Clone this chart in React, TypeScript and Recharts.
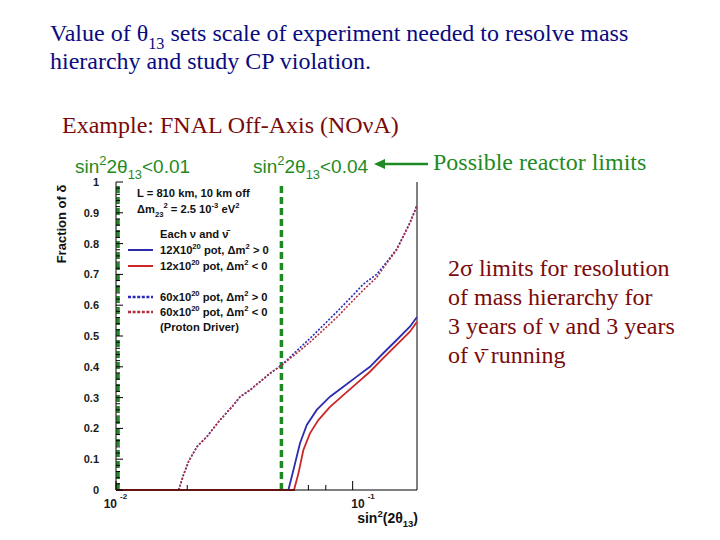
import React from 'react';
import { LineChart, Line, XAxis, YAxis, ReferenceLine, Legend } from 'recharts';

type Pt = { x: number; y: number };

// sin^2(2 theta13) vs fraction of delta
const blueSolid: Pt[] = [
  { x: 0.0535, y: 0 }, { x: 0.0562, y: 0.065 }, { x: 0.0599, y: 0.152 }, { x: 0.064, y: 0.211 },
  { x: 0.0705, y: 0.26 }, { x: 0.0802, y: 0.303 }, { x: 0.0913, y: 0.335 }, { x: 0.104, y: 0.368 },
  { x: 0.1183, y: 0.4 }, { x: 0.1346, y: 0.444 }, { x: 0.1534, y: 0.487 }, { x: 0.1745, y: 0.53 },
  { x: 0.187, y: 0.562 },
];
const redSolid: Pt[] = [
  { x: 0.01, y: 0 }, { x: 0.0565, y: 0 }, { x: 0.059, y: 0.054 }, { x: 0.0619, y: 0.13 },
  { x: 0.066, y: 0.184 }, { x: 0.0716, y: 0.227 }, { x: 0.0802, y: 0.27 }, { x: 0.0913, y: 0.308 },
  { x: 0.104, y: 0.346 }, { x: 0.1183, y: 0.384 }, { x: 0.1346, y: 0.428 }, { x: 0.1534, y: 0.471 },
  { x: 0.1745, y: 0.514 }, { x: 0.187, y: 0.546 },
];
const blueDotted: Pt[] = [
  { x: 0.0184, y: 0 }, { x: 0.0193, y: 0.05 }, { x: 0.0203, y: 0.094 }, { x: 0.022, y: 0.141 },
  { x: 0.0242, y: 0.173 }, { x: 0.0275, y: 0.227 }, { x: 0.0309, y: 0.27 }, { x: 0.0335, y: 0.303 },
  { x: 0.0369, y: 0.325 }, { x: 0.0448, y: 0.379 }, { x: 0.0502, y: 0.406 }, { x: 0.058, y: 0.452 },
  { x: 0.066, y: 0.492 }, { x: 0.0752, y: 0.535 }, { x: 0.0856, y: 0.578 }, { x: 0.0974, y: 0.622 },
  { x: 0.1108, y: 0.668 }, { x: 0.1262, y: 0.7 }, { x: 0.1392, y: 0.74 }, { x: 0.1534, y: 0.782 },
  { x: 0.1635, y: 0.824 }, { x: 0.1745, y: 0.868 }, { x: 0.187, y: 0.925 },
];
const redDotted: Pt[] = [
  { x: 0.0184, y: 0 }, { x: 0.0193, y: 0.05 }, { x: 0.0203, y: 0.094 }, { x: 0.022, y: 0.141 },
  { x: 0.0242, y: 0.173 }, { x: 0.0275, y: 0.227 }, { x: 0.0309, y: 0.27 }, { x: 0.0335, y: 0.303 },
  { x: 0.0369, y: 0.325 }, { x: 0.0448, y: 0.379 }, { x: 0.0502, y: 0.406 }, { x: 0.058, y: 0.444 },
  { x: 0.066, y: 0.48 }, { x: 0.0752, y: 0.52 }, { x: 0.0856, y: 0.56 }, { x: 0.0974, y: 0.605 },
  { x: 0.1108, y: 0.649 }, { x: 0.1262, y: 0.69 }, { x: 0.1392, y: 0.736 }, { x: 0.1534, y: 0.779 },
  { x: 0.1635, y: 0.822 }, { x: 0.1745, y: 0.866 }, { x: 0.187, y: 0.922 },
];

const reactorLimitLines = [0.0102, 0.05];

const X_DOMAIN: [number, number] = [0.01, 0.187];
const majorXTicks = [0.01, 0.1];
const xTickExponents = ['-2', '-1'];
const minorXTicks = [0.02, 0.065, 0.077];
const majorYTicks = [0, 0.1, 0.2, 0.3, 0.4, 0.5, 0.6, 0.7, 0.8, 0.9, 1];
const yTickLabels = ['0', '0.1', '0.2', '0.3', '0.4', '0.5', '0.6', '0.7', '0.8', '0.9', '1'];
const minorYTicks = Array.from({ length: 51 }, (_, i) => Math.round(i * 2) / 100).filter(
  (v) => !majorYTicks.some((m) => Math.abs(m - v) < 1e-9)
);

const SANS = 'Liberation Sans, Arial, sans-serif';
const SERIF = 'Liberation Serif, Times New Roman, serif';
const GREEN = '#1f8a24';
const MAROON = '#7a0a0a';
const NAVY = '#0a0a80';

const NU = '\u03bd';
const NUBAR = '\u03bd\u0304';

type Part = [string, ('sup' | 'sub' | '')?];
function rich(parts: Part[], base: number) {
  let shift = 0;
  return parts.map(([t, k], i) => {
    const target = k === 'sup' ? -base * 0.42 : k === 'sub' ? base * 0.32 : 0;
    const dy = target - shift;
    shift = target;
    return (
      <tspan key={i} dy={dy} fontSize={k ? base * 0.68 : base}>
        {t}
      </tspan>
    );
  });
}

const series = [
  { key: 'b1', name: '12X10^20 pot, dm2 > 0', data: blueSolid, color: '#2c2cae', dash: undefined as string | undefined, width: 1.8,
    label: [['12X10'], ['20', 'sup'], [' pot, \u0394m'], ['2', 'sup'], [' >  0']] as Part[] },
  { key: 'r1', name: '12x10^20 pot, dm2 < 0', data: redSolid, color: '#cc2626', dash: undefined, width: 1.8,
    label: [['12x10'], ['20', 'sup'], [' pot, \u0394m'], ['2', 'sup'], [' <  0']] as Part[] },
  { key: 'b2', name: '60x10^20 pot, dm2 > 0', data: blueDotted, color: '#2a2ab8', dash: '2 1.6', width: 1.6,
    label: [['60x10'], ['20', 'sup'], [' pot, \u0394m'], ['2', 'sup'], [' >  0']] as Part[] },
  { key: 'r2', name: '60x10^20 pot, dm2 < 0', data: redDotted, color: '#b03040', dash: '2 1.6', width: 1.6,
    label: [['60x10'], ['20', 'sup'], [' pot, \u0394m'], ['2', 'sup'], [' <  0']] as Part[] },
];

const Y_MARGIN = 17;
const X_MARGIN = 10;

const YTick = (props: any) => {
  const { x, y, payload } = props;
  const v = payload.value as number;
  const idx = majorYTicks.findIndex((m) => Math.abs(m - v) < 1e-9);
  const ax = x + Y_MARGIN;
  const major = idx >= 0;
  return (
    <g>
      <line x1={ax} x2={ax + (major ? 7 : 4)} y1={y} y2={y} stroke="#000" strokeWidth={1} />
      {major && (
        <text x={x} y={y + 4} textAnchor="end" fontFamily={SANS} fontWeight="bold" fontSize={11} fill="#1a1a1a">
          {yTickLabels[idx]}
        </text>
      )}
    </g>
  );
};

const XTick = (props: any) => {
  const { x, y, payload } = props;
  const v = payload.value as number;
  const idx = majorXTicks.findIndex((m) => Math.abs(m - v) < 1e-12);
  const ay = y - X_MARGIN;
  const major = idx >= 0;
  const anchorX = idx === 0 ? x + 1 : x + 12;
  return (
    <g>
      <line x1={x} x2={x} y1={ay} y2={ay - (major ? 9 : 5)} stroke="#000" strokeWidth={1} />
      {major && (
        <g fontFamily={SANS} fontWeight="bold" fill="#1a1a1a">
          <text x={anchorX} y={ay + 18} textAnchor="end" fontSize={12}>10</text>
          <text x={anchorX + 3} y={ay + 9} textAnchor="start" fontSize={8}>{xTickExponents[idx]}</text>
        </g>
      )}
    </g>
  );
};

const LegendBox = () => {
  const rows = [250, 266, 297, 312];
  const fs = 11.2;
  return (
    <svg width={175} height={160} style={{ display: 'block', overflow: 'visible' }}>
      <g transform="translate(-120,-183)" fontFamily={SANS} fontWeight="bold" fill="#111" fontSize={fs}>
        <text x={137} y={197}>L = 810 km, 10 km off</text>
        <text x={137} y={213}>{rich([['\u0394m'], ['23', 'sub'], ['2', 'sup'], [' = 2.5 10'], ['-3', 'sup'], [' eV'], ['2', 'sup']], fs)}</text>
        <text x={160} y={238}>{`Each ${NU} and ${NUBAR}`}</text>
        {series.map((s, i) => (
          <g key={s.key}>
            <line x1={128} x2={153} y1={rows[i]} y2={rows[i]} stroke={s.color} strokeWidth={s.dash ? 2.4 : 2} strokeDasharray={s.dash ? '3 1.6' : undefined} />
            <text x={160} y={rows[i] + 4}>{rich(s.label, fs)}</text>
          </g>
        ))}
        <text x={160} y={331}>(Proton Driver)</text>
      </g>
    </svg>
  );
};

export default function App() {
  const allXTicks = [...majorXTicks, ...minorXTicks].sort((a, b) => a - b);
  const allYTicks = [...majorYTicks, ...minorYTicks].sort((a, b) => a - b);
  return (
    <div style={{ position: 'absolute', left: 0, top: 0, width: 720, height: 540, background: '#fff' }}>
      <LineChart width={720} height={540} margin={{ top: 182, right: 303, bottom: 20, left: 56 }}>
        <XAxis
          dataKey="x"
          type="number"
          scale="log"
          domain={X_DOMAIN}
          allowDataOverflow
          ticks={allXTicks}
          interval={0}
          tickSize={0}
          tickMargin={X_MARGIN}
          tickLine={false}
          tick={<XTick />}
          axisLine={{ stroke: '#000', strokeWidth: 1 }}
          height={30}
        />
        <YAxis
          type="number"
          domain={[0, 1]}
          ticks={allYTicks}
          interval={0}
          tickSize={0}
          tickMargin={Y_MARGIN}
          tickLine={false}
          tick={<YTick />}
          axisLine={{ stroke: '#000', strokeWidth: 1 }}
          width={60}
        />
        <ReferenceLine x={X_DOMAIN[1]} stroke="#000" strokeWidth={1} />
        {reactorLimitLines.map((v) => (
          <ReferenceLine key={v} x={v} stroke={GREEN} strokeWidth={3.5} strokeDasharray="7 4" />
        ))}
        {series.map((s) => (
          <Line
            key={s.key}
            name={s.name}
            data={s.data}
            dataKey="y"
            type="linear"
            stroke={s.color}
            strokeWidth={s.width}
            strokeDasharray={s.dash}
            dot={false}
            isAnimationActive={false}
          />
        ))}
        <Legend
          layout="horizontal"
          align="center"
          verticalAlign="middle"
          content={() => <LegendBox />}
          wrapperStyle={{ position: 'absolute', left: 120, top: 183, width: 175, height: 160 }}
        />
      </LineChart>
      <svg width={720} height={540} style={{ position: 'absolute', left: 0, top: 0, pointerEvents: 'none' }}>
        <g fontFamily={SERIF} fill={NAVY}>
          <text x={50} y={41} fontSize={24}>{rich([['Value of \u03b8'], ['13', 'sub'], [' sets scale of experiment needed to resolve mass']], 24)}</text>
          <text x={50} y={69} fontSize={24}>hierarchy and study CP violation.</text>
        </g>
        <text x={62} y={133} fontFamily={SERIF} fontSize={24} fill={MAROON}>{`Example: FNAL Off-Axis (NO${NU}A)`}</text>
        <g fontFamily={SANS} fill={GREEN} fontSize={19}>
          <text x={75} y={173}>{rich([['sin'], ['2', 'sup'], ['2\u03b8'], ['13', 'sub'], ['<0.01']], 19)}</text>
          <text x={253} y={173}>{rich([['sin'], ['2', 'sup'], ['2\u03b8'], ['13', 'sub'], ['<0.04']], 19)}</text>
        </g>
        <line x1={382} x2={428} y1={164} y2={164} stroke={GREEN} strokeWidth={2.5} />
        <polygon points="374,164 385,159 385,169" fill={GREEN} />
        <text x={433} y={170} fontFamily={SERIF} fontSize={24} fill={GREEN}>Possible reactor limits</text>
        <g fontFamily={SERIF} fontSize={24} fill={MAROON}>
          <text x={448} y={276}>{'2\u03c3 limits for resolution'}</text>
          <text x={448} y={305}>of mass hierarchy for</text>
          <text x={448} y={334}>{`3 years of ${NU} and 3 years`}</text>
          <text x={448} y={363}>{`of ${NUBAR} running`}</text>
        </g>
        <text transform="translate(66,224) rotate(-90)" textAnchor="middle" fontFamily={SANS} fontWeight="bold" fontSize={13} fill="#111">{'Fraction of \u03b4'}</text>
        <text x={418} y={523} textAnchor="end" fontFamily={SANS} fontWeight="bold" fontSize={14} fill="#111">{rich([['sin'], ['2', 'sup'], ['(2\u03b8'], ['13', 'sub'], [')']], 14)}</text>
      </svg>
    </div>
  );
}
